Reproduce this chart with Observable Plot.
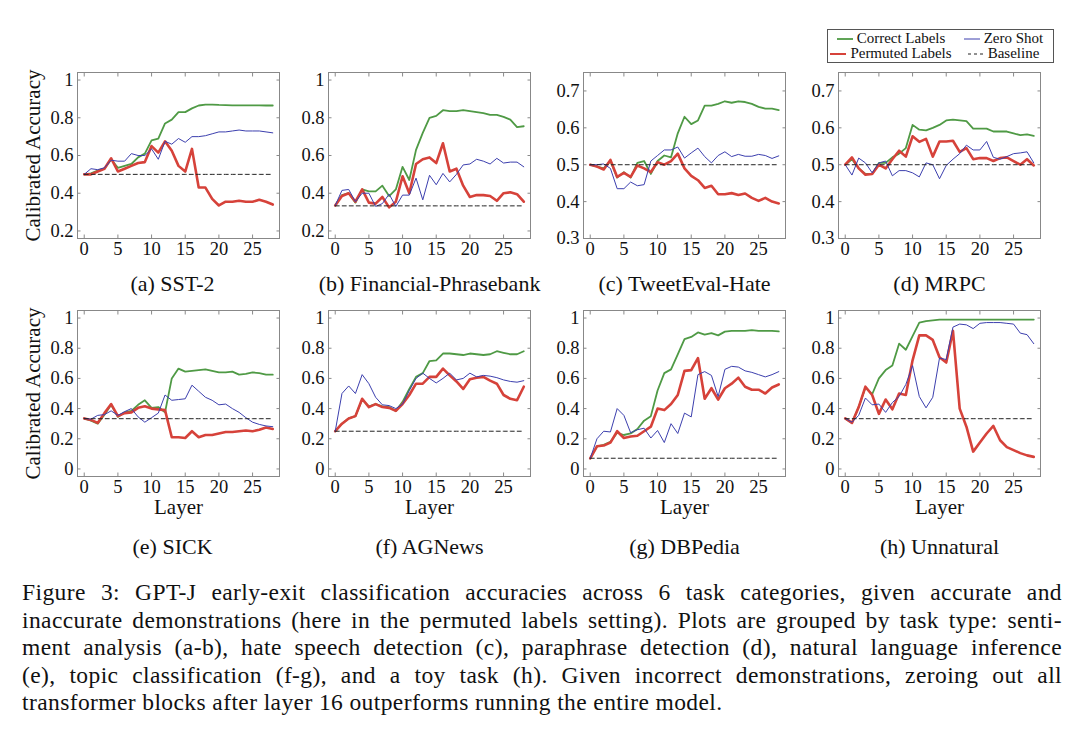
<!DOCTYPE html>
<html>
<head>
<meta charset="utf-8">
<script src="https://cdn.jsdelivr.net/npm/d3@7"></script>
<script src="https://cdn.jsdelivr.net/npm/@observablehq/plot@0.6"></script>
<style>
  html, body { margin: 0; padding: 0; background: #fff; }
  #root { position: relative; width: 1080px; height: 747px; overflow: hidden; background: #fff;
          font-family: "Liberation Serif", "Times New Roman", serif; color: #111; }
  .panel { position: absolute; }
  .panel svg { background: transparent; max-width: none; }
  #legend { position: absolute; left: 827px; top: 29px; width: 227px; height: 34px; box-sizing: border-box;
            border: 1px solid #555; background: #fff; font-size: 15px; line-height: 15px;
            display: grid; grid-template-columns: 126px 99px; grid-template-rows: 15px 15px; padding-top: 1px; }
  #legend .item { display: flex; align-items: center; justify-content: center; white-space: nowrap; }
  #legend svg { margin-right: 4px; }
  #caption { position: absolute; left: 22px; top: 579px; width: 1040px; font-size: 23.5px; line-height: 27.5px; letter-spacing: 0.4px; }
  #caption .ln { white-space: nowrap; text-align: justify; text-align-last: justify; }
  #caption .ln.last { text-align-last: left; }
</style>
</head>
<body>
<div id="root"></div>
<script>
// ---------------- data ----------------
const layers = [0,1,2,3,4,5,6,7,8,9,10,11,12,13,14,15,16,17,18,19,20,21,22,23,24,25,26,27,28];
const xTicks = [0,5,10,15,20,25];
const seriesNames = ["Correct Labels", "Zero Shot", "Permuted Labels", "Baseline"];

// (a) SST-2
const correctSST2  = [0.50,0.505,0.52,0.53,0.58,0.535,0.545,0.555,0.59,0.61,0.68,0.69,0.77,0.79,0.83,0.83,0.85,0.865,0.87,0.87,0.868,0.867,0.866,0.866,0.866,0.866,0.866,0.865,0.865];
const permutedSST2 = [0.50,0.50,0.515,0.53,0.585,0.515,0.53,0.545,0.56,0.565,0.65,0.615,0.675,0.625,0.545,0.515,0.635,0.43,0.43,0.37,0.335,0.355,0.355,0.36,0.355,0.355,0.365,0.355,0.34];
const zeroSST2     = [0.50,0.53,0.525,0.535,0.575,0.57,0.57,0.61,0.60,0.60,0.635,0.58,0.675,0.66,0.69,0.67,0.70,0.70,0.705,0.715,0.725,0.725,0.73,0.735,0.73,0.73,0.73,0.725,0.72];
const baselineSST2 = 0.5;

// (b) Financial-Phrasebank
const correctFPB  = [0.335,0.39,0.40,0.35,0.42,0.41,0.41,0.44,0.385,0.42,0.54,0.47,0.63,0.72,0.80,0.81,0.84,0.835,0.835,0.84,0.835,0.83,0.825,0.815,0.815,0.805,0.79,0.75,0.755];
const permutedFPB = [0.335,0.385,0.40,0.355,0.42,0.35,0.345,0.38,0.325,0.355,0.49,0.40,0.555,0.58,0.59,0.56,0.665,0.515,0.53,0.44,0.38,0.39,0.39,0.385,0.36,0.40,0.405,0.395,0.355];
const zeroFPB     = [0.335,0.415,0.42,0.355,0.40,0.40,0.33,0.345,0.395,0.33,0.39,0.39,0.48,0.365,0.495,0.445,0.505,0.46,0.50,0.55,0.555,0.58,0.57,0.555,0.585,0.56,0.565,0.565,0.54];
const baselineFPB = 0.333;

// (c) TweetEval-Hate
const correctTE  = [0.50,0.495,0.49,0.51,0.465,0.48,0.465,0.505,0.51,0.475,0.51,0.525,0.52,0.585,0.63,0.61,0.62,0.66,0.66,0.665,0.672,0.668,0.672,0.67,0.665,0.657,0.652,0.652,0.648];
const permutedTE = [0.50,0.495,0.487,0.513,0.467,0.478,0.467,0.498,0.49,0.48,0.507,0.50,0.51,0.53,0.49,0.47,0.458,0.437,0.443,0.42,0.42,0.423,0.418,0.422,0.41,0.402,0.41,0.40,0.395];
const zeroTE     = [0.50,0.50,0.502,0.49,0.435,0.435,0.453,0.443,0.446,0.51,0.525,0.54,0.54,0.548,0.518,0.532,0.545,0.522,0.505,0.525,0.535,0.522,0.528,0.523,0.523,0.528,0.525,0.517,0.524];
const baselineTE = 0.5;

// (d) MRPC
const correctMRPC  = [0.50,0.515,0.49,0.475,0.475,0.505,0.505,0.52,0.53,0.545,0.608,0.595,0.593,0.60,0.608,0.62,0.622,0.62,0.618,0.598,0.598,0.598,0.59,0.59,0.59,0.585,0.58,0.582,0.578];
const permutedMRPC = [0.50,0.52,0.49,0.473,0.475,0.50,0.49,0.515,0.538,0.522,0.577,0.562,0.57,0.522,0.563,0.563,0.565,0.535,0.545,0.515,0.518,0.518,0.51,0.518,0.52,0.51,0.50,0.515,0.498];
const zeroMRPC     = [0.50,0.472,0.518,0.505,0.478,0.505,0.51,0.47,0.484,0.484,0.478,0.467,0.505,0.50,0.462,0.498,0.515,0.53,0.553,0.54,0.54,0.563,0.52,0.515,0.522,0.53,0.532,0.535,0.505];
const baselineMRPC = 0.5;

// (e) SICK
const correctSICK  = [0.335,0.32,0.30,0.36,0.425,0.345,0.375,0.385,0.425,0.455,0.405,0.41,0.375,0.60,0.665,0.645,0.65,0.655,0.66,0.65,0.64,0.64,0.645,0.625,0.63,0.64,0.635,0.625,0.625];
const permutedSICK = [0.335,0.325,0.305,0.37,0.43,0.35,0.37,0.375,0.405,0.415,0.40,0.395,0.39,0.21,0.21,0.205,0.25,0.21,0.225,0.225,0.235,0.245,0.245,0.25,0.255,0.25,0.26,0.275,0.265];
const zeroSICK     = [0.335,0.33,0.355,0.36,0.385,0.355,0.38,0.40,0.345,0.31,0.34,0.37,0.49,0.455,0.46,0.465,0.555,0.515,0.475,0.455,0.425,0.43,0.40,0.375,0.34,0.31,0.295,0.285,0.28];
const baselineSICK = 0.333;

// (f) AGNews
const correctAG  = [0.25,0.30,0.335,0.35,0.46,0.415,0.43,0.415,0.41,0.385,0.445,0.53,0.61,0.635,0.715,0.72,0.765,0.765,0.76,0.755,0.765,0.76,0.755,0.76,0.78,0.77,0.76,0.76,0.78];
const permutedAG = [0.25,0.30,0.335,0.35,0.465,0.41,0.43,0.41,0.405,0.385,0.43,0.49,0.565,0.565,0.61,0.61,0.665,0.62,0.58,0.53,0.595,0.605,0.61,0.585,0.565,0.49,0.465,0.455,0.545];
const zeroAG     = [0.25,0.50,0.55,0.50,0.625,0.565,0.475,0.425,0.42,0.40,0.43,0.52,0.60,0.635,0.60,0.57,0.60,0.635,0.59,0.60,0.635,0.61,0.62,0.615,0.605,0.59,0.58,0.575,0.585];
const baselineAG = 0.25;

// (g) DBPedia
const correctDB  = [0.07,0.15,0.16,0.18,0.24,0.225,0.235,0.265,0.32,0.35,0.52,0.635,0.66,0.76,0.86,0.875,0.905,0.89,0.90,0.885,0.91,0.915,0.915,0.915,0.92,0.915,0.915,0.915,0.912];
const permutedDB = [0.07,0.15,0.155,0.175,0.25,0.205,0.215,0.22,0.25,0.28,0.40,0.39,0.43,0.49,0.65,0.655,0.735,0.465,0.535,0.46,0.535,0.565,0.605,0.545,0.525,0.525,0.50,0.54,0.56];
const zeroDB     = [0.07,0.20,0.25,0.245,0.40,0.355,0.24,0.26,0.27,0.205,0.255,0.175,0.30,0.235,0.37,0.345,0.625,0.645,0.62,0.48,0.66,0.68,0.675,0.65,0.64,0.625,0.61,0.625,0.645];
const baselineDB = 0.071;

// (h) Unnatural
const correctUN  = [0.335,0.305,0.41,0.54,0.495,0.60,0.655,0.685,0.83,0.79,0.88,0.97,0.98,0.985,0.99,0.99,0.99,0.99,0.99,0.99,0.99,0.99,0.99,0.99,0.99,0.99,0.99,0.99,0.99];
const permutedUN = [0.335,0.305,0.41,0.545,0.49,0.365,0.46,0.395,0.50,0.49,0.72,0.885,0.885,0.855,0.74,0.705,0.915,0.40,0.28,0.115,0.175,0.235,0.285,0.19,0.145,0.125,0.105,0.09,0.08];
const zeroUN     = [0.335,0.31,0.355,0.47,0.425,0.43,0.375,0.44,0.48,0.56,0.685,0.48,0.405,0.475,0.735,0.725,0.94,0.96,0.955,0.93,0.965,0.97,0.97,0.97,0.965,0.96,0.90,0.89,0.83];
const baselineUN = 0.333;

const titles = ["(a) SST-2","(b) Financial-Phrasebank","(c) TweetEval-Hate","(d) MRPC",
                "(e) SICK","(f) AGNews","(g) DBPedia","(h) Unnatural"];
const yTicksA = [0.2,0.4,0.6,0.8,1];
const yTicksC = [0.3,0.4,0.5,0.6,0.7];
const yTicksE = [0,0.2,0.4,0.6,0.8,1];
const yLabel = "Calibrated Accuracy";
const xLabel = "Layer";

// ---------------- layout ----------------
const colors = {correct: "#4f9a45", permuted: "#d6423a", zero: "#3c3fae", baseline: "#222"};
const frameLefts = [77, 328, 583, 838];
const frameTops = [72, 310];
const FW = 202, FH = 166;
const ML = 76, MR = 8, MT = 8, MB = 86;

const panels = [
  {c: correctSST2, p: permutedSST2, z: zeroSST2, b: baselineSST2, dom: [0.16, 1.04], ticks: yTicksA},
  {c: correctFPB, p: permutedFPB, z: zeroFPB, b: baselineFPB, dom: [0.16, 1.04], ticks: yTicksA},
  {c: correctTE, p: permutedTE, z: zeroTE, b: baselineTE, dom: [0.3, 0.75], ticks: yTicksC},
  {c: correctMRPC, p: permutedMRPC, z: zeroMRPC, b: baselineMRPC, dom: [0.3, 0.75], ticks: yTicksC},
  {c: correctSICK, p: permutedSICK, z: zeroSICK, b: baselineSICK, dom: [-0.05, 1.05], ticks: yTicksE},
  {c: correctAG, p: permutedAG, z: zeroAG, b: baselineAG, dom: [-0.05, 1.05], ticks: yTicksE},
  {c: correctDB, p: permutedDB, z: zeroDB, b: baselineDB, dom: [-0.05, 1.05], ticks: yTicksE},
  {c: correctUN, p: permutedUN, z: zeroUN, b: baselineUN, dom: [-0.05, 1.05], ticks: yTicksE}
];

const root = document.getElementById("root");

panels.forEach((pn, i) => {
  const row = Math.floor(i / 4), col = i % 4;
  const data = layers.map((l, k) => ({layer: l, correct: pn.c[k], permuted: pn.p[k], zero: pn.z[k], base: pn.b}));
  const tickStyle = {tickSize: -3.5, stroke: "#8a8a8a", fill: "none", label: null};
  const marks = [
    Plot.line(data, {x: "layer", y: "correct", stroke: colors.correct, strokeWidth: 1.8}),
    Plot.line(data, {x: "layer", y: "permuted", stroke: colors.permuted, strokeWidth: 2.6}),
    Plot.line(data, {x: "layer", y: "zero", stroke: colors.zero, strokeWidth: 1}),
    Plot.line(data, {x: "layer", y: "base", stroke: colors.baseline, strokeWidth: 1, strokeDasharray: "4,3"}),
    Plot.axisX(xTicks, {...tickStyle}),
    Plot.axisX(xTicks, {...tickStyle, anchor: "top"}),
    Plot.axisY(pn.ticks, {...tickStyle}),
    Plot.axisY(pn.ticks, {...tickStyle, anchor: "right"}),
    Plot.axisX(xTicks, {tickSize: 0, tickPadding: 3, fontSize: 18.5, fill: "#111", label: null}),
    Plot.axisY(pn.ticks, {tickSize: 0, tickPadding: 4, fontSize: 18.5, fill: "#111", label: null, tickFormat: d => String(d)}),
    Plot.frame({stroke: "#888", strokeWidth: 1}),
    Plot.text([titles[i]], {frameAnchor: "bottom", text: d => d, dy: row === 0 ? 45 : 70, dx: col === 0 ? -6 : 0,
                            textAnchor: "middle", lineAnchor: "middle", fontSize: 22, fill: "#111"})
  ];
  if (col === 0) marks.push(Plot.text([yLabel], {frameAnchor: "left", text: d => d, rotate: -90, dx: -44,
                            textAnchor: "middle", lineAnchor: "middle", fontSize: 21, fill: "#111"}));
  if (row === 1) marks.push(Plot.text([xLabel], {frameAnchor: "bottom", text: d => d, dy: 31,
                            textAnchor: "middle", lineAnchor: "middle", fontSize: 21, fill: "#111"}));

  const chart = Plot.plot({
    width: ML + FW + MR,
    height: MT + FH + MB,
    marginLeft: ML, marginRight: MR, marginTop: MT, marginBottom: MB,
    x: {domain: [-1, 29], axis: null},
    y: {domain: pn.dom, axis: null},
    style: {fontFamily: '"Liberation Serif", "Times New Roman", serif', fontSize: "18px", background: "transparent", overflow: "visible", color: "#111"},
    marks
  });
  const div = document.createElement("div");
  div.className = "panel";
  div.style.left = (frameLefts[col] - ML) + "px";
  div.style.top = (frameTops[row] - MT) + "px";
  div.appendChild(chart);
  root.appendChild(div);
});

// ---------------- legend ----------------
const legend = document.createElement("div");
legend.id = "legend";
const legendItems = [
  {name: seriesNames[0], color: colors.correct, w: 1.8, dash: null},
  {name: seriesNames[1], color: colors.zero, w: 1, dash: null},
  {name: seriesNames[2], color: colors.permuted, w: 2, dash: null},
  {name: seriesNames[3], color: colors.baseline, w: 1, dash: "3,3"}
];
legendItems.forEach(it => {
  const d = document.createElement("div");
  d.className = "item";
  d.innerHTML = `<svg width="16" height="6"><line x1="0" y1="3" x2="16" y2="3" stroke="${it.color}" stroke-width="${it.w}" ${it.dash ? `stroke-dasharray="${it.dash}"` : ""}/></svg><span>${it.name}</span>`;
  legend.appendChild(d);
});
root.appendChild(legend);

// ---------------- caption ----------------
const captionLines = [
  "Figure 3: GPT-J early-exit classification accuracies across 6 task categories, given accurate and",
  "inaccurate demonstrations (here in the permuted labels setting). Plots are grouped by task type: senti-",
  "ment analysis (a-b), hate speech detection (c), paraphrase detection (d), natural language inference",
  "(e), topic classification (f-g), and a toy task (h).  Given incorrect demonstrations, zeroing out all",
  "transformer blocks after layer 16 outperforms running the entire model."
];
const cap = document.createElement("div");
cap.id = "caption";
captionLines.forEach((t, i) => {
  const d = document.createElement("div");
  d.className = "ln" + (i === captionLines.length - 1 ? " last" : "");
  d.textContent = t;
  cap.appendChild(d);
});
root.appendChild(cap);
</script>
</body>
</html>
